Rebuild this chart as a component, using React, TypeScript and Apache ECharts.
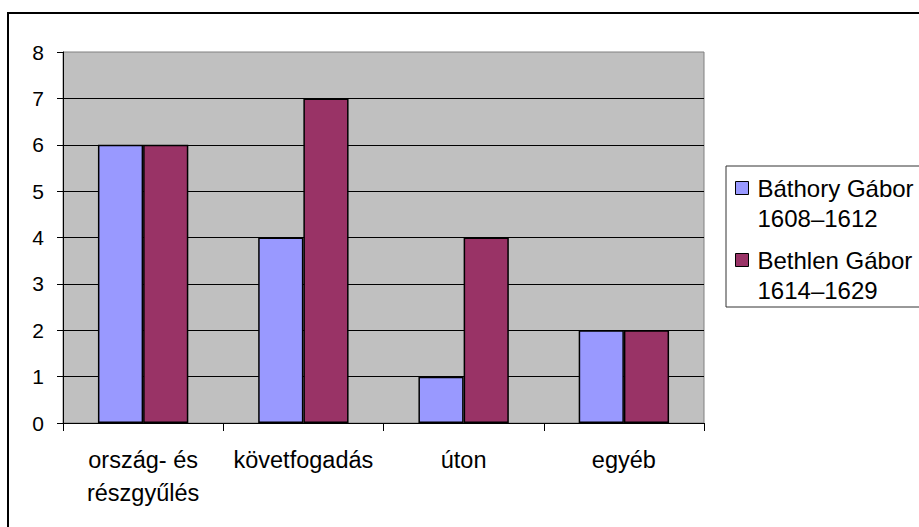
import React, { useEffect, useRef } from "react";
import * as echarts from "echarts";

const categories = ["ország- és részgyűlés", "követfogadás", "úton", "egyéb"];
const categoryLabels = ["ország- és\nrészgyűlés", "követfogadás", "úton", "egyéb"];
const seriesNames = ["Báthory Gábor", "Bethlen Gábor"];
const seriesYears = ["1608–1612", "1614–1629"];
const bathoryValues = [6, 4, 1, 2];
const bethlenValues = [6, 7, 4, 2];
const yTicks = [0, 1, 2, 3, 4, 5, 6, 7, 8];

const FONT = "'Liberation Sans', Arial, sans-serif";

export default function App() {
  const ref = useRef<HTMLDivElement>(null);
  useEffect(() => {
    if (!ref.current) return;
    const chart = echarts.init(ref.current, undefined, { renderer: "svg" });
    chart.setOption({
      animation: false,
      backgroundColor: "#ffffff",
      grid: {
        left: 63,
        right: 215,
        top: 52,
        bottom: 104,
        show: true,
        backgroundColor: "#C0C0C0",
        borderColor: "#808080",
        borderWidth: 1,
      },
      xAxis: {
        type: "category",
        data: categories,
        axisLine: { show: true, lineStyle: { color: "#000", width: 1 } },
        axisTick: { show: true, length: 8, lineStyle: { color: "#000" } },
        axisLabel: {
          color: "#000",
          fontFamily: FONT,
          fontSize: 23.5,
          lineHeight: 33,
          margin: 20,
          interval: 0,
          formatter: (v: string) => categoryLabels[categories.indexOf(v)] ?? v,
        },
        splitLine: { show: false },
      },
      yAxis: {
        type: "value",
        min: yTicks[0],
        max: yTicks[yTicks.length - 1],
        interval: 1,
        axisLine: { show: true, lineStyle: { color: "#000", width: 1 } },
        axisTick: { show: true, length: 6, lineStyle: { color: "#000" } },
        axisLabel: { color: "#000", fontFamily: FONT, fontSize: 21, margin: 19 },
        splitLine: { show: true, showMaxLine: false, lineStyle: { color: "#000", width: 1 } },
      },
      legend: {
        orient: "vertical",
        left: 735,
        top: 143,
        padding: 0,
        itemGap: -18,
        itemWidth: 13,
        itemHeight: 13,
        icon: "rect",
        itemStyle: { borderColor: "#000", borderWidth: 1 },
        textStyle: {
          color: "#000",
          fontFamily: FONT,
          fontSize: 24,
          lineHeight: 30,
          padding: [0, 0, 0, 4],
        },
        formatter: (name: string) => "\n" + name + "\n" + seriesYears[seriesNames.indexOf(name)],
        data: seriesNames,
      },
      graphic: [
        {
          type: "rect",
          shape: { x: 8, y: 13, width: 930, height: 540 },
          style: { fill: "none", stroke: "#000", lineWidth: 2 },
          silent: true,
        },
        {
          type: "rect",
          shape: { x: 726, y: 166, width: 220, height: 141 },
          style: { fill: "none", stroke: "#333", lineWidth: 1 },
          silent: true,
        },
      ],
      series: [
        {
          name: seriesNames[0],
          type: "bar",
          data: bathoryValues,
          barGap: "0%",
          barCategoryGap: "43.6%",
          itemStyle: { color: "#9999FF", borderColor: "#000", borderWidth: 1.5 },
        },
        {
          name: seriesNames[1],
          type: "bar",
          data: bethlenValues,
          barGap: "0%",
          barCategoryGap: "43.6%",
          itemStyle: { color: "#993366", borderColor: "#000", borderWidth: 1.5 },
        },
      ],
    });
    return () => chart.dispose();
  }, []);
  return (
    <div
      ref={ref}
      style={{ position: "absolute", left: 0, top: 0, width: 919, height: 527 }}
    />
  );
}
